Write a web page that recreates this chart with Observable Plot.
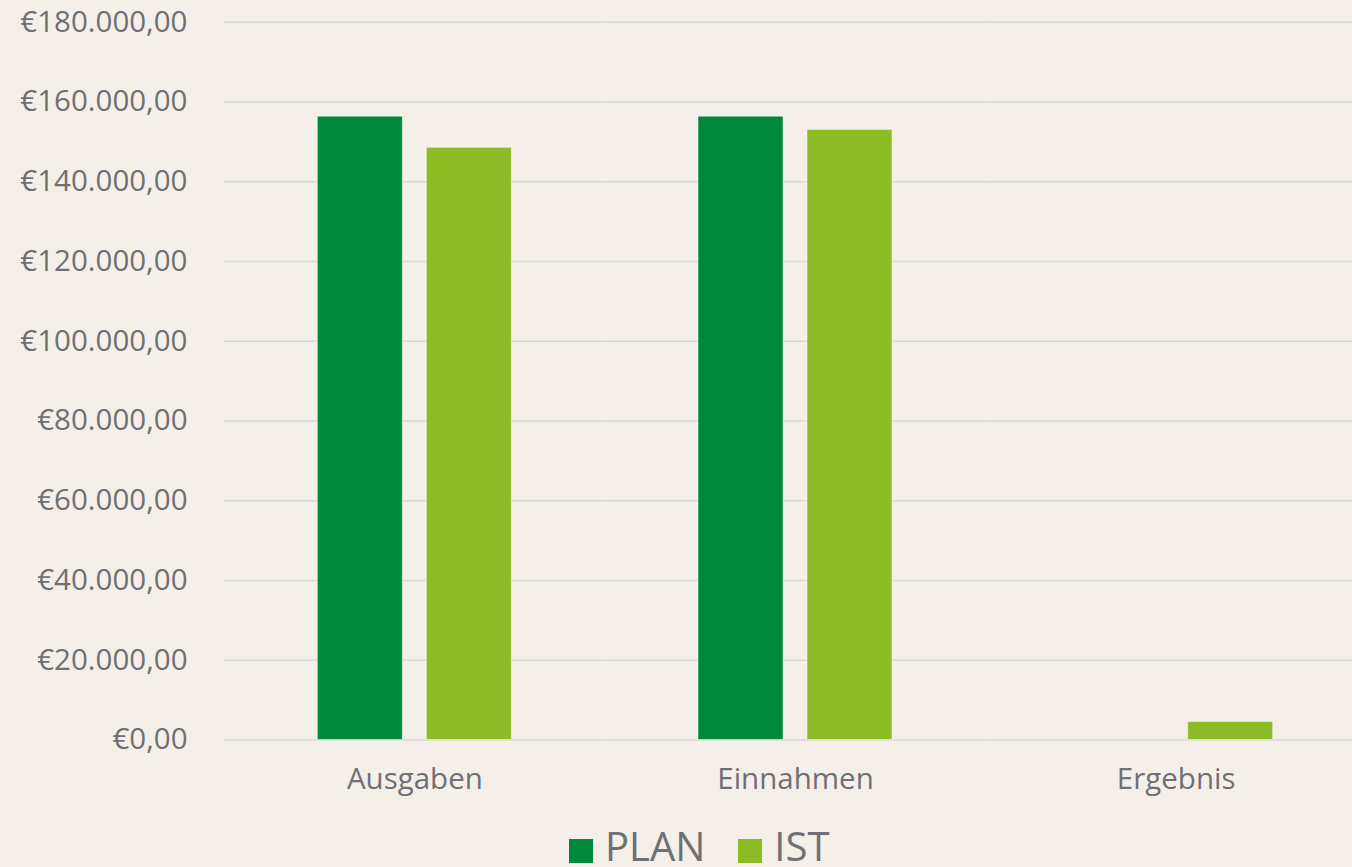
<!DOCTYPE html>
<html>
<head>
<meta charset="utf-8">
<script src="https://cdn.jsdelivr.net/npm/d3@7"></script>
<script src="https://cdn.jsdelivr.net/npm/@observablehq/plot@0.6"></script>
<style>
  html, body { margin: 0; padding: 0; background: #f4f0e9; overflow: hidden; }
  #wrap { position: relative; width: 1352px; height: 867px; overflow: hidden; }
  #chart { position: absolute; left: 0; top: 0; width: 1366px; }
  #chart svg { max-width: none !important; }
  #legend { position: absolute; left: 569px; top: 822px; display: flex; align-items: center;
            font-family: "Open Sans", sans-serif; font-size: 40px; color: #6f6f74; line-height: 48px; }
  .item { display: flex; align-items: center; }
  .sw { width: 24px; height: 24px; margin-right: 12px; margin-top: 10px; }
</style>
</head>
<body>
<div id="wrap">
  <div id="chart"></div>
  <div id="legend"></div>
</div>
<script>
const categories = ["Ausgaben", "Einnahmen", "Ergebnis"];
const series = ["PLAN", "IST"];
const seriesColors = ["#00893a", "#8cbb26"];
const planValues = [156300, 156300, 0];
const istValues = [148500, 153000, 4500];
const yTicks = [0, 20000, 40000, 60000, 80000, 100000, 120000, 140000, 160000, 180000];
const yTickLabels = ["€0,00", "€20.000,00", "€40.000,00", "€60.000,00", "€80.000,00",
  "€100.000,00", "€120.000,00", "€140.000,00", "€160.000,00", "€180.000,00"];

const data = categories.flatMap((c, i) => [
  {category: c, series: "PLAN", value: planValues[i]},
  {category: c, series: "IST", value: istValues[i]}
]);

const chart = Plot.plot({
  width: 1366,
  height: 810,
  marginLeft: 224,
  marginRight: 0,
  marginTop: 21.7,
  marginBottom: 70.5,
  style: {background: "transparent", fontFamily: "'Open Sans', sans-serif", fontSize: "29.5px", color: "#6f6f74", overflow: "visible", maxWidth: "none"},
  fx: {domain: categories, paddingInner: 0, paddingOuter: 0, round: false, label: null, axis: null},
  x: {domain: series, paddingInner: 0.22, paddingOuter: 0.856, round: false, axis: null},
  y: {domain: [0, 180000], axis: null},
  color: {domain: series, range: seriesColors},
  marks: [
    Plot.ruleY(yTicks, {stroke: "#dcd9d3", strokeWidth: 1.6}),
    Plot.barY(data.filter(d => d.value > 0), {fx: "category", x: "series", y: "value", fill: "series",
      stroke: "#ffffff", strokeOpacity: 0.5, strokeWidth: 1}),
    Plot.axisY(yTicks, {tickSize: 0, tickPadding: 37, tickFormat: d => yTickLabels[yTicks.indexOf(d)], label: null, fontSize: 29.5}),
    Plot.axisFx({anchor: "bottom", tickSize: 0, tickPadding: 28, label: null, fontSize: 29.5})
  ]
});
document.getElementById("chart").appendChild(chart);

const legend = document.getElementById("legend");
series.forEach((s, i) => {
  const item = document.createElement("div");
  item.className = "item";
  if (i > 0) item.style.marginLeft = "33px";
  const sw = document.createElement("div");
  sw.className = "sw";
  sw.style.background = seriesColors[i];
  const t = document.createElement("span");
  t.textContent = s;
  item.appendChild(sw);
  item.appendChild(t);
  legend.appendChild(item);
});
</script>
</body>
</html>
